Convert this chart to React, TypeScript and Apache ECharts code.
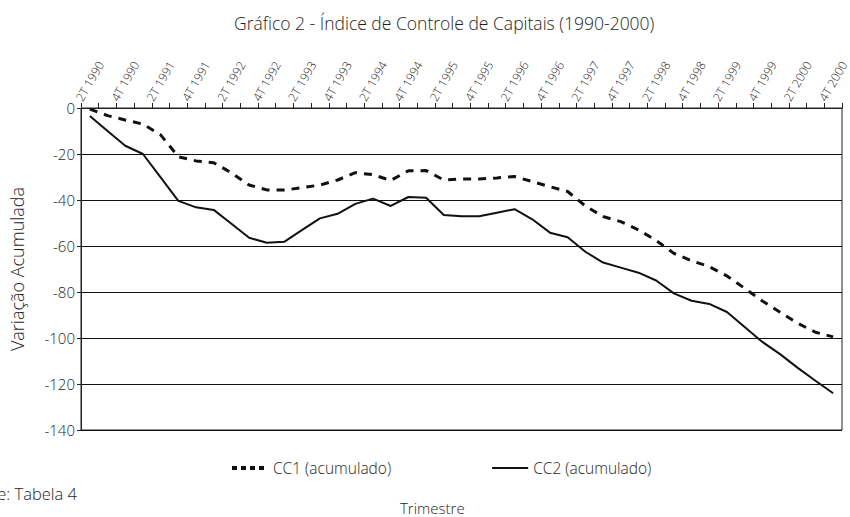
import { useEffect, useRef } from "react";
import * as echarts from "echarts";

const quarters = [
  "2T 1990", "3T 1990", "4T 1990",
  "1T 1991", "2T 1991", "3T 1991", "4T 1991",
  "1T 1992", "2T 1992", "3T 1992", "4T 1992",
  "1T 1993", "2T 1993", "3T 1993", "4T 1993",
  "1T 1994", "2T 1994", "3T 1994", "4T 1994",
  "1T 1995", "2T 1995", "3T 1995", "4T 1995",
  "1T 1996", "2T 1996", "3T 1996", "4T 1996",
  "1T 1997", "2T 1997", "3T 1997", "4T 1997",
  "1T 1998", "2T 1998", "3T 1998", "4T 1998",
  "1T 1999", "2T 1999", "3T 1999", "4T 1999",
  "1T 2000", "2T 2000", "3T 2000", "4T 2000",
];

const cc1 = [
  -0.5, -3.3, -5.2, -7, -11.7, -21.2, -23, -23.8, -28.2, -33.5, -35.6,
  -35.7, -34.6, -33.5, -31.3, -28.1, -29, -31.5, -27.3, -27.2, -31.3,
  -30.9, -30.9, -30.4, -29.8, -32, -34.2, -36.3, -42.6, -47.2, -49.4,
  -53, -57.6, -63.2, -66.4, -69, -73, -78.4, -83.9, -88.8, -93.6, -97.5, -99.5,
];

const cc2 = [
  -3.5, -10, -16.4, -20, -30.2, -40.4, -43.2, -44.3, -50.3, -56.4, -58.6,
  -58.1, -53, -48, -46, -41.7, -39.4, -42.6, -38.7, -39, -46.5,
  -47.1, -47.1, -45.5, -44, -48.4, -54.2, -56.2, -62.5, -67.2, -69.4,
  -71.6, -75, -80.6, -83.8, -85.2, -88.7, -95.2, -101.7, -107, -113, -118.6, -124,
];

const seriesNames = ["CC1 (acumulado)", "CC2 (acumulado)"];
const titleText = "Gráfico 2 - Índice de Controle de Capitais (1990-2000)";
const yAxisName = "Variação Acumulada";
const xAxisName = "Trimestre";
const sourceText = "Fonte: Tabela 4";
const yMin = -140;
const yMax = 0;
const yStep = 20;

const FONT = "'Open Sans', 'DejaVu Sans', sans-serif";
const TEXT = "#1e1e1e";
const INK = "#111";
const W = 300;

export default function App() {
  const ref = useRef<HTMLDivElement>(null);

  useEffect(() => {
    if (!ref.current) return;
    const chart = echarts.init(ref.current, null, { renderer: "svg" });
    chart.setOption({
      animation: false,
      backgroundColor: "#fff",
      textStyle: { fontFamily: FONT, fontWeight: W },
      title: {
        text: titleText,
        left: 229,
        top: 9,
        textStyle: { fontSize: 17.5, fontWeight: W, color: TEXT, fontFamily: FONT },
      },
      grid: [
        {
          left: 81,
          right: 8,
          top: 108,
          bottom: 87,
          show: true,
          borderColor: "#222",
          borderWidth: 1,
          containLabel: false,
          outerBoundsMode: "none",
        },
        {
          left: 70,
          right: 19,
          top: 108,
          bottom: 87,
          show: false,
          containLabel: false,
          outerBoundsMode: "none",
        },
      ],
      legend: {
        left: 225,
        top: 455,
        itemWidth: 36,
        itemHeight: 12,
        itemGap: 100,
        itemStyle: { opacity: 0 },
        textStyle: { fontSize: 15.5, color: TEXT, fontFamily: FONT, fontWeight: W },
        data: [
          { name: seriesNames[0], lineStyle: { type: [5, 4], width: 4 } },
          { name: seriesNames[1] },
        ],
      },
      xAxis: [
        {
          type: "category",
          gridIndex: 0,
          position: "top",
          data: quarters,
          boundaryGap: true,
          axisLine: { show: true, lineStyle: { color: "#222", width: 1 } },
          axisTick: { show: true, interval: 0, length: 5, lineStyle: { color: "#222" } },
          axisLabel: { show: false },
          splitLine: { show: false },
        },
        {
          type: "category",
          gridIndex: 1,
          position: "top",
          data: quarters,
          boundaryGap: true,
          axisLine: { show: false },
          axisTick: { show: false },
          axisLabel: {
            interval: 1,
            rotate: 60,
            fontSize: 12,
            color: TEXT,
            margin: 8,
            fontFamily: FONT,
            fontWeight: W,
          },
          splitLine: { show: false },
        },
      ],
      yAxis: [
        {
          type: "value",
          gridIndex: 0,
          min: yMin,
          max: yMax,
          interval: yStep,
          name: yAxisName,
          nameLocation: "middle",
          nameRotate: 90,
          nameGap: 55,
          nameTextStyle: { fontSize: 18, color: TEXT, fontFamily: FONT, fontWeight: W },
          axisLine: { show: true, lineStyle: { color: "#222", width: 1 } },
          axisTick: { show: true, length: 4, lineStyle: { color: "#222" } },
          axisLabel: { fontSize: 15, color: TEXT, margin: 6, fontFamily: FONT, fontWeight: W },
          splitLine: { show: true, lineStyle: { color: INK, width: 1 } },
        },
        {
          type: "value",
          gridIndex: 1,
          min: yMin,
          max: yMax,
          interval: yStep,
          show: false,
        },
      ],
      series: [
        {
          name: seriesNames[0],
          type: "line",
          xAxisIndex: 0,
          yAxisIndex: 0,
          data: cc1,
          symbol: "none",
          itemStyle: { color: INK },
          lineStyle: { color: INK, width: 3, type: [8, 7] },
        },
        {
          name: seriesNames[1],
          type: "line",
          xAxisIndex: 0,
          yAxisIndex: 0,
          data: cc2,
          symbol: "none",
          itemStyle: { color: INK },
          lineStyle: { color: INK, width: 2, type: "solid" },
        },
      ],
      graphic: [
        {
          type: "text",
          left: 400,
          top: 500,
          style: { text: xAxisName, fontSize: 15, fill: TEXT, fontFamily: FONT, fontWeight: W },
        },
        {
          type: "text",
          x: -36,
          y: 485,
          style: { text: sourceText, fontSize: 16.5, fill: TEXT, fontFamily: FONT, fontWeight: W },
        },
      ],
    });
    return () => chart.dispose();
  }, []);

  return (
    <div
      ref={ref}
      style={{ position: "absolute", left: 0, top: 0, width: 850, height: 517 }}
    />
  );
}
